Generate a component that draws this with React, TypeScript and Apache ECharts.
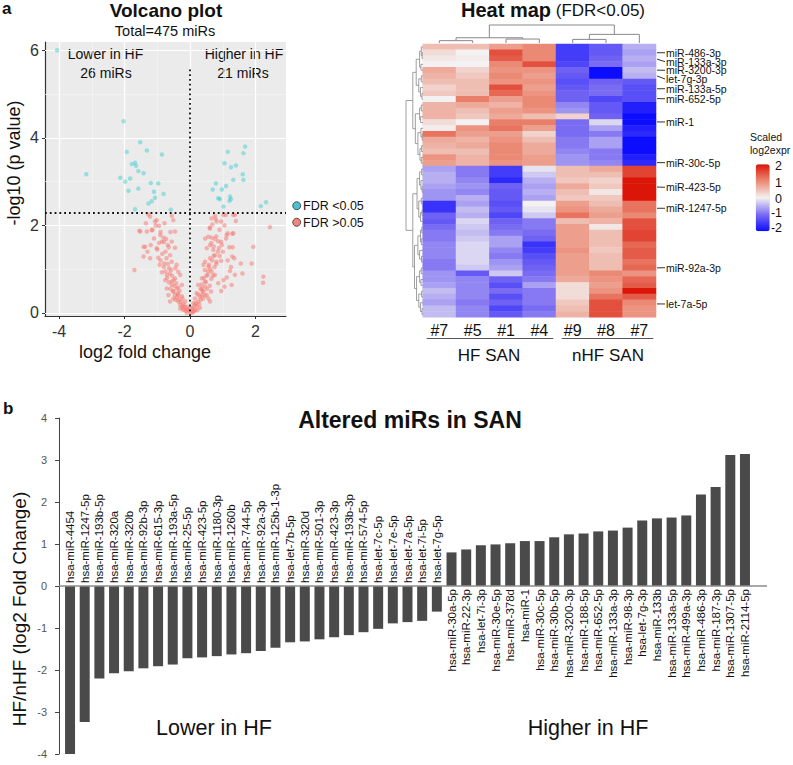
import React, { useEffect, useRef } from 'react';
import * as echarts from 'echarts';

const FONT = '"Liberation Sans", Arial, Helvetica, sans-serif';

// ---------------- Volcano plot: [log2 fold change, -log10 p] ----------------
const volcanoSignificant: number[][] = [
  [-4.06, 6.0], [-2.03, 4.38], [-1.52, 3.9], [-1.93, 3.68], [-1.32, 3.71], [-0.86, 3.62],
  [-3.17, 3.17], [-1.68, 3.43], [-1.65, 3.36], [-1.78, 3.4], [-1.58, 3.24], [-1.42, 3.19],
  [-2.13, 3.09], [-1.98, 3.0], [-1.83, 3.07], [-1.2, 2.97], [-0.97, 2.96], [-1.88, 2.79],
  [-1.58, 2.84], [-1.1, 2.77], [-0.81, 2.72], [-1.07, 2.63], [-1.17, 2.55], [-1.27, 2.5],
  [-1.68, 2.37], [-0.59, 2.36],
  [1.68, 3.8], [1.63, 3.65], [1.15, 3.68], [1.05, 3.42], [1.25, 3.33], [1.4, 3.37],
  [1.61, 3.17], [1.32, 3.04], [1.63, 3.04], [0.79, 2.96], [0.97, 2.82], [1.22, 2.66],
  [1.25, 2.6], [0.91, 2.6], [1.2, 2.56], [2.32, 2.53], [2.16, 2.44], [1.02, 2.43],
  [0.86, 2.62], [1.1, 2.9], [0.69, 2.82],
];

const volcanoNotSignificant: number[][] = [
  [-1.27, 2.25], [-1.22, 2.2], [-1.02, 2.12], [-1.07, 2.09], [-0.95, 1.99], [-0.56, 2.22],
  [-0.51, 2.12], [-0.46, 1.86], [-1.52, 1.86], [-1.32, 1.86], [-1.15, 1.9], [-0.91, 1.78],
  [-0.81, 1.72], [-0.73, 1.69], [-0.86, 1.63], [-0.68, 1.55], [-0.56, 1.63], [-0.46, 1.49],
  [-1.37, 1.51], [-1.42, 1.29], [-1.22, 1.25], [-1.02, 1.48], [-0.97, 1.26], [-0.93, 1.1],
  [-0.86, 0.93], [-0.61, 1.32], [-0.56, 1.17], [-0.64, 1.02], [-0.41, 1.1], [-0.36, 0.94],
  [-1.7, 0.98], [-0.79, 1.13], [-0.71, 0.87], [-0.76, 0.75], [-0.56, 0.72], [-0.46, 0.79],
  [-0.3, 0.87], [-0.25, 0.64], [-0.41, 0.56], [-0.51, 0.49], [-0.36, 0.41], [-0.23, 0.33],
  [-0.15, 0.26], [-0.1, 0.14], [-0.05, 0.07], [0.0, 0.02],
  [0.66, 2.16], [0.76, 2.22], [1.02, 2.24], [0.95, 2.09], [1.09, 2.24], [1.37, 2.24],
  [2.44, 1.96], [0.46, 1.7], [0.56, 1.74], [0.66, 1.72], [0.76, 1.69], [0.86, 1.64],
  [0.61, 1.55], [0.51, 1.48], [0.71, 1.44], [0.88, 1.48], [0.97, 1.55], [1.12, 1.78],
  [1.32, 1.82], [1.29, 1.29], [1.35, 1.25], [1.55, 1.13], [0.76, 1.32], [0.61, 1.25],
  [0.46, 1.17], [0.41, 1.1], [0.56, 1.06], [0.81, 1.17], [0.95, 1.19], [0.66, 0.94],
  [0.54, 0.87], [0.36, 0.79], [0.46, 0.72], [0.25, 0.64], [0.36, 0.56], [0.2, 0.45],
  [0.15, 0.33], [0.1, 0.22], [0.05, 0.11], [1.22, 0.96], [1.12, 0.81], [1.37, 0.87],
  [1.27, 0.64], [0.86, 0.68], [1.02, 0.75], [0.76, 0.87], [2.24, 0.83], [1.15, 1.82],
  [0.61, 1.93], [0.68, 2.02], [0.81, 2.09],
  [-0.51, 0.33], [-0.46, 0.41], [-0.36, 0.26], [-0.3, 0.18], [-0.23, 0.14], [-0.17, 0.07],
  [0.15, 0.18], [0.25, 0.26], [0.3, 0.37], [0.36, 0.41], [0.41, 0.49], [0.46, 0.6],
  [0.51, 0.41], [0.56, 0.33], [0.61, 0.26], [0.64, 0.49], [-0.66, 0.41], [-0.61, 0.26],
  [-0.56, 0.64], [-0.71, 0.56], [0.15, 0.07], [0.1, 0.03], [-0.1, 0.0], [0.05, 0.0],
  [-1.42, 1.51], [-1.55, 1.88], [-1.17, 1.89], [2.23, 0.69], [1.88, 1.13], [1.93, 1.51],
  [1.29, 1.81], [1.32, 2.24],
  [-0.2, 0.2], [-0.28, 0.25], [-0.33, 0.31], [-0.4, 0.36], [-0.45, 0.3], [-0.38, 0.45],
  [-0.52, 0.5], [-0.6, 0.55], [-0.48, 0.62], [-0.65, 0.7], [-0.7, 0.8], [-0.55, 0.85],
  [-0.62, 0.9], [-0.75, 0.95], [-0.8, 1.05], [-0.68, 1.12], [-0.9, 1.2], [-0.85, 1.35],
  [-0.75, 1.4], [-1.0, 1.45], [-0.95, 1.6], [-1.1, 1.7], [-1.2, 1.55], [-0.9, 1.85],
  [-1.05, 2.0], [-0.3, 0.1], [-0.22, 0.08], [-0.12, 0.05], [-0.08, 0.1], [-0.18, 0.15],
  [-0.25, 0.38], [-0.32, 0.5], [-0.42, 0.68], [-0.36, 0.58], [-0.5, 0.75], [-0.58, 0.98],
  [-0.45, 1.02], [-0.72, 1.25], [-0.65, 1.5], [-0.8, 1.62], [-1.3, 1.4], [-1.35, 2.05],
  [-0.78, 2.05], [-0.6, 1.85],
  [0.2, 0.15], [0.28, 0.2], [0.33, 0.3], [0.4, 0.33], [0.45, 0.4], [0.38, 0.5],
  [0.52, 0.55], [0.6, 0.62], [0.48, 0.7], [0.65, 0.78], [0.7, 0.85], [0.55, 0.95],
  [0.62, 1.0], [0.75, 1.05], [0.8, 1.12], [0.68, 1.2], [0.9, 1.3], [0.85, 1.4],
  [0.72, 1.52], [1.0, 1.4], [0.95, 1.62], [1.1, 1.7], [1.2, 1.5], [0.9, 1.9],
  [1.05, 2.0], [0.3, 0.12], [0.22, 0.06], [0.12, 0.04], [0.08, 0.12], [0.18, 0.22],
  [0.25, 0.42], [0.32, 0.55], [0.42, 0.8], [0.36, 0.65], [0.5, 0.85], [0.58, 1.1],
  [0.45, 0.98], [0.72, 1.3], [0.65, 1.6], [0.8, 1.75], [1.3, 1.5], [1.4, 2.1],
  [0.78, 2.15], [0.6, 1.95], [1.15, 1.2], [1.25, 1.05], [1.6, 0.9], [1.05, 0.6], [0.95, 0.5],
];

const fdrCutoff = 2.28;
const volcanoXTicks = [-4, -2, 0, 2];
const volcanoYTicks = [0, 2, 4, 6];
const volcanoXMinor = [-3, -1, 1];
const volcanoYMinor = [1, 3, 5];

// ---------------- Heat map ----------------
const heatColumns = ['#7', '#5', '#1', '#4', '#9', '#8', '#7'];
const heatValues: number[][] = [
  [0.5, 0.5, 0.8, 1.0, -1.5, -1.2, -0.5],
  [0.2, 0.0, 1.5, 1.0, -1.5, -1.2, -0.6],
  [0.1, 0.05, 1.4, 1.0, -1.5, -1.1, -0.5],
  [0.0, 0.0, 1.0, 1.5, -1.4, -1.0, -0.6],
  [0.7, 0.3, 0.9, 0.9, -1.1, -2.0, -0.4],
  [0.6, 0.4, 1.0, 0.8, -1.2, -2.0, -0.5],
  [0.5, 0.5, 0.9, 0.9, -1.3, -1.1, -1.2],
  [0.3, 0.5, 1.5, 0.8, -1.2, -1.0, -1.3],
  [0.4, 0.5, 1.3, 0.9, -1.1, -1.0, -1.3],
  [0.0, 1.1, 0.8, 1.0, -1.1, -1.4, -1.3],
  [0.6, 0.7, 0.6, 1.0, -0.8, -1.2, -1.8],
  [0.6, 0.5, 0.8, 0.9, -0.7, -1.2, -1.8],
  [0.6, 0.4, 0.7, 0.5, 0.3, -1.1, -2.0],
  [0.2, 0.0, 1.1, 1.1, -1.0, -0.2, -2.0],
  [0.05, 0.9, 1.2, 0.8, -1.0, -0.6, -1.8],
  [1.2, 0.8, 0.8, 0.3, -1.0, -0.9, -1.7],
  [0.7, 0.6, 0.9, 0.5, -0.9, -0.6, -2.0],
  [0.6, 0.7, 1.0, 0.7, -0.9, -0.6, -2.0],
  [0.5, 0.5, 1.0, 0.7, -0.8, -0.9, -2.0],
  [0.9, 0.6, 1.0, 0.8, -0.7, -0.9, -1.8],
  [0.8, 0.6, 0.9, 0.8, -0.7, -0.8, -1.7],
  [-0.6, -0.9, -1.5, -0.1, 0.5, 0.7, 1.6],
  [-0.5, -0.9, -1.5, -0.3, 0.5, 0.5, 1.6],
  [-0.5, -0.8, -1.7, -0.5, 0.4, 0.3, 2.0],
  [-0.6, -0.7, -1.1, -0.6, 0.7, 0.4, 2.0],
  [-0.7, -0.8, -1.2, -0.5, 0.5, 0.1, 2.0],
  [-0.7, -0.5, -1.2, -0.6, 0.4, 0.4, 2.0],
  [-1.6, -0.6, -1.3, 0.0, 0.8, 0.5, 1.2],
  [-1.6, -0.4, -1.2, -0.1, 0.9, 0.7, 1.2],
  [-1.1, -0.5, -1.4, -0.3, 1.2, 0.8, 1.0],
  [-1.2, -0.2, -1.1, -0.9, 0.5, 0.6, 1.5],
  [-1.0, -0.3, -1.0, -0.9, 0.8, 0.1, 1.5],
  [-0.9, -0.4, -0.9, -1.0, 0.8, 0.5, 1.6],
  [-0.9, -0.3, -0.6, -1.1, 0.8, 0.5, 1.6],
  [-0.8, -0.2, -0.6, -1.6, 0.8, 0.5, 1.3],
  [-0.8, -0.2, -0.8, -1.5, 0.9, 0.4, 1.4],
  [-0.8, -0.2, -0.9, -1.3, 0.8, 0.5, 1.4],
  [-0.9, -0.2, -0.7, -1.2, 0.8, 0.5, 1.2],
  [-0.9, -0.3, -0.6, -1.1, 0.8, 0.5, 1.3],
  [-0.7, -1.2, -0.3, -1.0, 0.8, 1.0, 0.9],
  [-0.7, -0.8, -1.1, -0.9, 0.7, 0.9, 1.3],
  [-0.6, -0.8, -1.3, -0.6, 0.2, 0.8, 1.4],
  [-0.4, -0.8, -1.0, -0.9, 0.2, 0.9, 2.0],
  [-0.5, -0.8, -1.3, -0.9, 0.2, 1.2, 1.4],
  [-0.6, -0.9, -1.1, -0.9, 0.4, 1.5, 1.0],
  [-0.4, -0.8, -1.4, -1.0, 0.5, 1.5, 0.9],
  [-0.4, -0.8, -1.2, -0.9, 0.6, 1.5, 0.9],
];
const heatLabelNames = [
  'miR-486-3p', 'miR-133a-3p', 'miR-3200-3p', 'let-7g-3p', 'miR-133a-5p', 'miR-652-5p',
  'miR-1', 'miR-30c-5p', 'miR-423-5p', 'miR-1247-5p', 'miR-92a-3p', 'let-7a-5p',
];
// [row the leader starts at, row position of the label]
const heatLabelRows: number[][] = [
  [1, 1.0], [2.1, 2.54], [4, 4.02], [5, 5.52], [7.2, 7.19], [8.9, 8.91],
  [12.9, 12.91], [19.9, 19.91], [24.1, 24.14], [27.75, 27.75], [38, 37.97], [44.2, 44.21],
];
const heatScaleTicks = ['2', '1', '0', '-1', '-2'];
// dendrograms: [height, left, right], leaves are indices
const columnTree: any = [1, [0.29, [0.13, 0, 1], [0.22, 2, 3]], [0.48, [0.2, 4, 5], 6]];
const rowTree: any = [1,
  [0.6,
    [0.4, [0.2, [0.1, 0, [0.05, 1, 2]], [0.12, 3, 4]], [0.25, [0.1, 5, 6], [0.15, 7, [0.06, 8, 9]]]],
    [0.45, [0.2, [0.1, 10, 11], [0.14, 12, 13]], [0.3, [0.12, 14, [0.05, 15, 16]], [0.18, [0.08, 17, 18], [0.1, 19, 20]]]],
  ],
  [0.6,
    [0.35, [0.2, [0.08, 21, 22], [0.12, 23, [0.05, 24, 25]]], [0.25, [0.1, 26, 27], [0.15, [0.06, 28, 29], 30]]],
    [0.5, [0.3, [0.15, [0.07, 31, 32], [0.1, 33, 34]], [0.2, 35, [0.09, 36, 37]]],
      [0.38, [0.2, [0.1, 38, 39], [0.12, 40, 41]], [0.25, [0.08, 42, 43], [0.15, 44, [0.06, 45, 46]]]]],
  ],
];

// ---------------- Bar chart ----------------
const barNames = [
  'hsa-miR-4454', 'hsa-miR-1247-5p', 'hsa-miR-193b-5p', 'hsa-miR-320a', 'hsa-miR-320b',
  'hsa-miR-92b-3p', 'hsa-miR-615-3p', 'hsa-miR-193a-5p', 'hsa-miR-25-5p', 'hsa-miR-423-5p',
  'hsa-miR-1180-3p', 'hsa-miR-1260b', 'hsa-miR-744-5p', 'hsa-miR-92a-3p', 'hsa-miR-125b-1-3p',
  'hsa-let-7b-5p', 'hsa-miR-320d', 'hsa-miR-501-3p', 'hsa-miR-423-3p', 'hsa-miR-193b-3p',
  'hsa-miR-574-5p', 'hsa-let-7c-5p', 'hsa-let-7e-5p', 'hsa-let-7a-5p', 'hsa-let-7i-5p',
  'hsa-let-7g-5p',
  'hsa-miR-30a-5p', 'hsa-miR-22-3p', 'hsa-let-7i-3p', 'hsa-miR-30e-5p', 'hsa-miR-378d',
  'hsa-miR-1', 'hsa-miR-30c-5p', 'hsa-miR-30b-5p', 'hsa-miR-3200-3p', 'hsa-miR-188-5p',
  'hsa-miR-652-5p', 'hsa-miR-133a-3p', 'hsa-miR-98-3p', 'hsa-let-7g-3p', 'hsa-miR-133b',
  'hsa-miR-133a-5p', 'hsa-miR-499a-3p', 'hsa-miR-486-3p', 'hsa-miR-187-3p', 'hsa-miR-1307-5p',
  'hsa-miR-2114-5p',
];
const barValues = [
  -4.1, -3.24, -2.2, -2.08, -2.03, -1.96, -1.91, -1.87, -1.72, -1.7, -1.67, -1.63, -1.6,
  -1.55, -1.47, -1.34, -1.32, -1.27, -1.22, -1.17, -1.1, -1.02, -0.89, -0.86, -0.83, -0.61,
  0.8, 0.87, 0.97, 0.99, 1.02, 1.07, 1.07, 1.16, 1.23, 1.25, 1.3, 1.32, 1.39, 1.56, 1.61,
  1.63, 1.68, 2.18, 2.36, 3.12, 3.14,
];

function dendroSegments(tree: any, swap: boolean): number[][] {
  const segs: number[][] = [];
  const walk = (node: any): { pos: number; h: number } => {
    if (!Array.isArray(node)) return { pos: node, h: 0 };
    const [h, a, b] = node;
    const A = walk(a);
    const B = walk(b);
    const push = (p1: number, h1: number, p2: number, h2: number) =>
      segs.push(swap ? [h1, p1, h2, p2] : [p1, h1, p2, h2]);
    push(A.pos, A.h, A.pos, h);
    push(B.pos, B.h, B.pos, h);
    push(A.pos, h, B.pos, h);
    return { pos: (A.pos + B.pos) / 2, h };
  };
  walk(tree);
  return segs;
}

function txt(text: string, x: number, y: number, size: number, opts: any = {}) {
  const align = opts.align || 'center';
  return {
    type: 'text',
    x,
    y,
    rotation: opts.rotation || 0,
    style: {
      text,
      fill: opts.color || '#111',
      fontSize: size,
      fontFamily: FONT,
      fontWeight: opts.bold ? 'bold' : 'normal',
      textAlign: align,
      align,
      textVerticalAlign: 'middle',
      verticalAlign: 'middle',
      rich: opts.rich,
    },
  };
}

export default function App() {
  const ref = useRef<HTMLDivElement>(null);

  useEffect(() => {
    if (!ref.current) return;
    const chart = echarts.init(ref.current, null, { renderer: 'svg' });

    const heatData: number[][] = [];
    heatValues.forEach((row, r) => row.forEach((v, c) => heatData.push([c, r, v])));

    const gridMarks = [
      ...volcanoXTicks.map((v) => ({ xAxis: v, lineStyle: { color: '#ffffff', width: 1.2, type: 'solid' } })),
      ...volcanoXMinor.map((v) => ({ xAxis: v, lineStyle: { color: '#f6f6f6', width: 0.6, type: 'solid' } })),
      ...volcanoYTicks.map((v) => ({ yAxis: v, lineStyle: { color: '#ffffff', width: 1.2, type: 'solid' } })),
      ...volcanoYMinor.map((v) => ({ yAxis: v, lineStyle: { color: '#f6f6f6', width: 0.6, type: 'solid' } })),
    ];

    const evenFmt = (v: number) => (Math.abs(v - Math.round(v)) < 1e-6 && Math.round(v) % 2 === 0 ? String(Math.round(v)) : '');

    const barData = barValues.map((v) => ({
      value: v,
      label: { position: v < 0 ? 'top' : 'bottom', align: v < 0 ? 'left' : 'right' },
    }));

    const option: any = {
      animation: false,
      backgroundColor: '#ffffff',
      textStyle: { fontFamily: FONT },
      grid: [
        { left: 62.7, right: 40.7, top: 418, height: 336 },
        { left: 45, top: 42, width: 241, height: 274, show: true, backgroundColor: '#ebebeb', borderWidth: 0 },
        { left: 422.7, top: 44, width: 233.3, height: 273.3 },
        { left: 422.7, top: 25, width: 233.3, height: 18 },
        { left: 406, top: 44, width: 17, height: 273.3 },
      ],
      xAxis: [
        {
          type: 'category', gridIndex: 0, data: barNames, show: false,
          axisLine: { show: false }, axisTick: { show: false }, axisLabel: { show: false },
        },
        {
          type: 'value', gridIndex: 1, min: -4.43, max: 2.93,
          axisLine: { onZero: false, lineStyle: { color: '#333', width: 1.2 } },
          axisTick: { length: 3, customValues: volcanoXTicks, lineStyle: { color: '#333' } },
          axisLabel: { customValues: volcanoXTicks, formatter: evenFmt, fontSize: 16, color: '#333', margin: 7, fontFamily: FONT },
          splitLine: { show: false },
        },
        {
          type: 'category', gridIndex: 2, position: 'bottom', data: heatColumns,
          axisLine: { show: false, onZero: false }, axisTick: { show: false },
          axisLabel: { fontSize: 16, color: '#111', margin: 5, fontFamily: FONT },
        },
        { type: 'value', gridIndex: 2, min: -0.5, max: 6.5, show: false, axisLine: { onZero: false } },
        { type: 'value', gridIndex: 3, min: -0.5, max: 6.5, show: false, axisLine: { onZero: false } },
        { type: 'value', gridIndex: 4, min: 0, max: 1, inverse: true, show: false, axisLine: { onZero: false } },
      ],
      yAxis: [
        {
          type: 'value', gridIndex: 0, min: -4, max: 4, interval: 1, offset: 3.7,
          axisLine: { show: true, lineStyle: { color: '#444', width: 1 } },
          axisTick: { show: true, length: 4, lineStyle: { color: '#444' } },
          axisLabel: { fontSize: 11, color: '#555', margin: 12, fontFamily: FONT },
          splitLine: { show: false },
        },
        {
          type: 'value', gridIndex: 1, min: -0.07, max: 6.19,
          axisLine: { show: true, onZero: false, lineStyle: { color: '#333', width: 1.2 } },
          axisTick: { show: true, length: 3, customValues: volcanoYTicks, lineStyle: { color: '#333' } },
          axisLabel: { customValues: volcanoYTicks, formatter: evenFmt, fontSize: 16, color: '#333', margin: 6, fontFamily: FONT },
          splitLine: { show: false },
        },
        {
          type: 'category', gridIndex: 2, inverse: true, data: heatValues.map((_, i) => String(i)),
          show: false, axisLine: { onZero: false },
        },
        { type: 'value', gridIndex: 2, min: -0.5, max: 46.5, inverse: true, show: false, axisLine: { onZero: false } },
        { type: 'value', gridIndex: 3, min: 0, max: 1, show: false, axisLine: { onZero: false } },
        { type: 'value', gridIndex: 4, min: -0.5, max: 46.5, inverse: true, show: false, axisLine: { onZero: false } },
      ],
      visualMap: {
        type: 'continuous', min: -2, max: 2, seriesIndex: 3, dimension: 2,
        calculable: false, show: true, left: 755.7, top: 164.3, itemWidth: 14, itemHeight: 67,
        padding: 0, text: null, hoverLink: false,
        inRange: { color: ['#0c0cff', '#7a6cf2', '#f3f1f1', '#eb8a74', '#db1508'] },
      },
      series: [
        {
          name: 'grid', type: 'scatter', xAxisIndex: 1, yAxisIndex: 1, data: [], silent: true,
          markLine: { silent: true, symbol: 'none', z: 1, label: { show: false }, lineStyle: { type: 'solid' }, data: gridMarks },
        },
        {
          name: 'FDR >0.05', type: 'scatter', xAxisIndex: 1, yAxisIndex: 1, data: volcanoNotSignificant,
          symbolSize: 4.5, itemStyle: { color: '#F8766D', opacity: 0.5 }, silent: true, z: 3,
        },
        {
          name: 'FDR <0.05', type: 'scatter', xAxisIndex: 1, yAxisIndex: 1, data: volcanoSignificant,
          symbolSize: 4.5, itemStyle: { color: '#00BFC4', opacity: 0.35 }, silent: true, z: 3,
          markLine: {
            silent: true, symbol: 'none', label: { show: false },
            lineStyle: { color: '#111', type: [1.8, 3], width: 1.8 },
            data: [
              { yAxis: fdrCutoff },
              [{ coord: [0, -0.07] }, { coord: [0, 5.6] }],
            ],
          },
        },
        {
          type: 'heatmap', xAxisIndex: 2, yAxisIndex: 2, data: heatData, silent: true,
          itemStyle: { borderWidth: 0 },
        },
        {
          type: 'custom', xAxisIndex: 3, yAxisIndex: 3, data: heatLabelRows, silent: true,
          renderItem: (params: any, api: any) => {
            const s = api.coord([6.5, api.value(0)]);
            const e = api.coord([6.5, api.value(1)]);
            return {
              type: 'group',
              children: [
                { type: 'line', shape: { x1: s[0] + 1, y1: s[1], x2: s[0] + 9, y2: e[1] }, style: { stroke: '#333', lineWidth: 1 } },
                {
                  type: 'text',
                  style: {
                    text: heatLabelNames[params.dataIndex], x: s[0] + 10, y: e[1], fill: '#111',
                    fontSize: 10.5, fontFamily: FONT, textAlign: 'left', align: 'left',
                    textVerticalAlign: 'middle', verticalAlign: 'middle',
                  },
                },
              ],
            };
          },
        },
        {
          type: 'custom', xAxisIndex: 4, yAxisIndex: 4, data: dendroSegments(columnTree, false), silent: true,
          renderItem: (params: any, api: any) => {
            const a = api.coord([api.value(0), api.value(1)]);
            const b = api.coord([api.value(2), api.value(3)]);
            return { type: 'line', shape: { x1: a[0], y1: a[1], x2: b[0], y2: b[1] }, style: { stroke: '#888', lineWidth: 1 } };
          },
        },
        {
          type: 'custom', xAxisIndex: 5, yAxisIndex: 5, data: dendroSegments(rowTree, true), silent: true,
          renderItem: (params: any, api: any) => {
            const a = api.coord([api.value(0), api.value(1)]);
            const b = api.coord([api.value(2), api.value(3)]);
            return { type: 'line', shape: { x1: a[0], y1: a[1], x2: b[0], y2: b[1] }, style: { stroke: '#888', lineWidth: 0.8 } };
          },
        },
        {
          type: 'bar', xAxisIndex: 0, yAxisIndex: 0, data: barData, barWidth: 10,
          itemStyle: { color: '#4a4a4a' }, silent: true,
          label: {
            show: true, rotate: 90, formatter: '{b}', fontSize: 11.5, color: '#111',
            fontFamily: FONT, verticalAlign: 'middle', distance: 3,
          },
          markLine: {
            silent: true, symbol: 'none', label: { show: false },
            lineStyle: { color: '#8c8c8c', width: 1.6, type: 'solid' },
            data: [[{ coord: [0, 0], x: 59 }, { coord: [barNames.length - 1, 0], x: 767 }]],
          },
        },
      ],
      graphic: [
        txt('a', 2, 8, 17, { bold: true, align: 'left' }),
        txt('Volcano plot', 166, 10, 19, { bold: true }),
        txt('Total=475 miRs', 165, 31, 14.5),
        txt('Lower in HF', 105.5, 54, 14),
        txt('26 miRs', 106, 73, 14),
        txt('Higher in HF', 244, 54, 14),
        txt('21 miRs', 243, 73, 14),
        txt('-log10 (p value)', 14, 163, 18, { rotation: Math.PI / 2 }),
        txt('log2 fold change', 145, 352, 18),
        { type: 'circle', shape: { cx: 296.7, cy: 205.7, r: 4 }, style: { fill: '#4cbfd3', stroke: '#333', lineWidth: 0.8 } },
        { type: 'circle', shape: { cx: 296.7, cy: 222.3, r: 4 }, style: { fill: '#f3857c', stroke: '#333', lineWidth: 0.8 } },
        txt('FDR <0.05', 303, 206, 12.5, { align: 'left' }),
        txt('FDR >0.05', 303, 222.5, 12.5, { align: 'left' }),
        txt('{b|Heat map} {n|(FDR<0.05)}', 553, 10, 17, {
          rich: {
            b: { fontSize: 20, fontWeight: 'bold', fontFamily: FONT, fill: '#111' },
            n: { fontSize: 17, fontFamily: FONT, fill: '#111' },
          },
        }),
        txt('Scaled', 750, 137, 10.5, { align: 'left' }),
        txt('log2expr', 750, 150, 10.5, { align: 'left' }),
        txt(heatScaleTicks[0], 782, 165.7, 12.5, { align: 'right' }),
        txt(heatScaleTicks[1], 782, 182.7, 12.5, { align: 'right' }),
        txt(heatScaleTicks[2], 782, 199.3, 12.5, { align: 'right' }),
        txt(heatScaleTicks[3], 782, 212.7, 12.5, { align: 'right' }),
        txt(heatScaleTicks[4], 782, 228.3, 12.5, { align: 'right' }),
        { type: 'line', shape: { x1: 426.7, y1: 338.5, x2: 553.3, y2: 338.5 }, style: { stroke: '#555', lineWidth: 1 } },
        { type: 'line', shape: { x1: 561.7, y1: 338.5, x2: 653.3, y2: 338.5 }, style: { stroke: '#555', lineWidth: 1 } },
        txt('HF SAN', 489, 355, 17),
        txt('nHF SAN', 608, 355, 17),
        txt('b', 3, 408, 17, { bold: true, align: 'left' }),
        txt('Altered miRs in SAN', 410, 420, 23, { bold: true }),
        txt('HF/nHF (log2 Fold Change)', 19, 609, 19, { rotation: Math.PI / 2 }),
        txt('Lower in HF', 214, 728, 21.5),
        txt('Higher in HF', 588, 728, 21.5),
      ],
    };

    chart.setOption(option);
    return () => chart.dispose();
  }, []);

  return (
    <div
      ref={ref}
      style={{ position: 'absolute', left: 0, top: 0, width: 793, height: 765, background: '#fff' }}
    />
  );
}
